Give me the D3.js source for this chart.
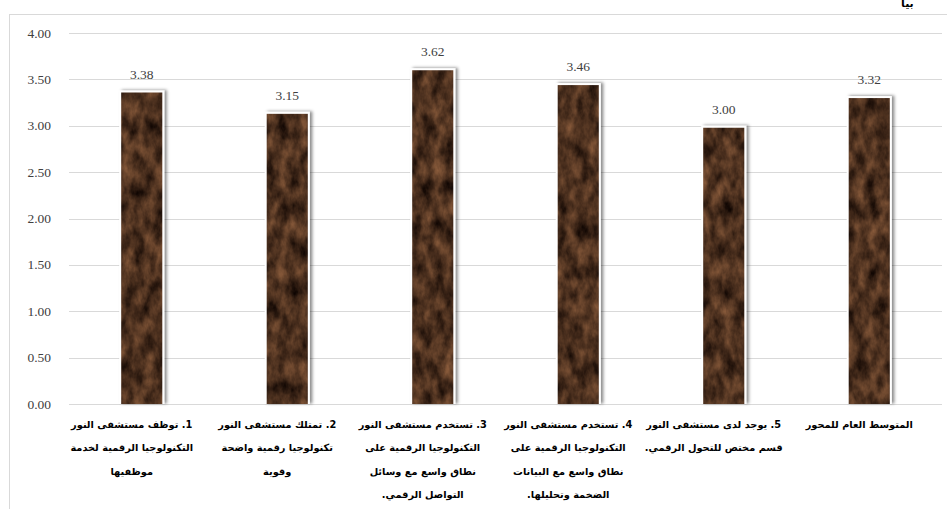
<!DOCTYPE html>
<html>
<head>
<meta charset="utf-8">
<script src="https://cdn.jsdelivr.net/npm/d3@7/dist/d3.min.js"></script>
<style>
  body { margin: 0; background: #fff; }
  svg { display: block; }
</style>
</head>
<body>
<svg width="947" height="509"></svg>
<script>
// values
const values = [3.38, 3.15, 3.62, 3.46, 3.00, 3.32];
const categoryLines = [
    ["1. توظف مستشفى النور", "التكنولوجيا الرقمية لخدمة", "موظفيها"],
    ["2. تمتلك مستشفى النور", "تكنولوجيا رقمية واضحة", "وقوية"],
    ["3. تستخدم مستشفى النور", "التكنولوجيا الرقمية على", "نطاق واسع مع وسائل", "التواصل الرقمي."],
    ["4. تستخدم مستشفى النور", "التكنولوجيا الرقمية على", "نطاق واسع مع البيانات", "الضخمة وتحليلها."],
    ["5. يوجد لدى مستشفى النور", "قسم مختص للتحول الرقمي."],
    ["المتوسط العام للمحور"]
];
const yTicks = [0, 0.5, 1, 1.5, 2, 2.5, 3, 3.5, 4];

const svg = d3.select("svg");
const width = +svg.attr("width");
const height = +svg.attr("height");

const margin = { left: 69, right: 5, top: 33, bottom: 105 };
const plotBottom = height - margin.bottom; // 404

const x = d3.scaleBand()
    .domain(d3.range(values.length))
    .range([margin.left, width - margin.right])
    .paddingInner(0.69)
    .paddingOuter(0.345);

const y = d3.scaleLinear()
    .domain([0, 4])
    .range([plotBottom, margin.top]);

const defs = svg.append("defs");

// dark brown marble texture
const marble = defs.append("filter")
    .attr("id", "marble")
    .attr("color-interpolation-filters", "sRGB")
    .attr("x", 0).attr("y", 0).attr("width", 1).attr("height", 1);
marble.append("feTurbulence")
    .attr("type", "fractalNoise")
    .attr("baseFrequency", "0.09 0.05")
    .attr("numOctaves", 4)
    .attr("seed", 7)
    .attr("result", "noise");
marble.append("feColorMatrix")
    .attr("in", "noise")
    .attr("type", "matrix")
    .attr("values",
        "0.6 0 0 0 0.0 " +
        "0.42 0 0 0 -0.02 " +
        "0.28 0 0 0 -0.02 " +
        "0 0 0 0 1")
    .attr("result", "col");
marble.append("feComposite")
    .attr("in", "col")
    .attr("in2", "SourceGraphic")
    .attr("operator", "in");

// soft shadow around the white frame
const shadow = defs.append("filter")
    .attr("id", "shadow")
    .attr("x", "-30%").attr("y", "-10%").attr("width", "160%").attr("height", "120%");
shadow.append("feDropShadow")
    .attr("dx", 2.5).attr("dy", -0.5)
    .attr("stdDeviation", 1.6)
    .attr("flood-color", "#000")
    .attr("flood-opacity", 0.45);

// frame
svg.append("rect")
    .attr("x", 9.5).attr("y", 14.5)
    .attr("width", width + 10).attr("height", height + 10)
    .attr("fill", "none")
    .attr("stroke", "#d9d9d9");

// title fragment, cut off at the top as in the reference
svg.append("text")
    .attr("x", 901).attr("y", 7)
    .attr("text-anchor", "end")
    .attr("font-family", "DejaVu Sans")
    .attr("font-weight", "bold")
    .attr("font-size", 11)
    .attr("fill", "#000")
    .attr("direction", "rtl")
    .text("بيا");

// gridlines
svg.append("g")
    .selectAll("line")
    .data(yTicks)
    .join("line")
    .attr("x1", margin.left)
    .attr("x2", width - margin.right)
    .attr("y1", d => Math.round(y(d)) + 0.5)
    .attr("y2", d => Math.round(y(d)) + 0.5)
    .attr("stroke", "#d9d9d9")
    .attr("stroke-width", 1);

// y axis labels
svg.append("g")
    .selectAll("text")
    .data(yTicks)
    .join("text")
    .attr("x", 51)
    .attr("y", d => y(d) + 4.5)
    .attr("text-anchor", "end")
    .attr("font-family", "Liberation Serif")
    .attr("font-size", 13.5)
    .attr("fill", "#404040")
    .text(d => d3.format(".2f")(d));

// bars
const bars = svg.append("g")
    .selectAll("g")
    .data(values)
    .join("g");

bars.append("rect")
    .attr("x", (d, i) => x(i))
    .attr("y", d => y(d))
    .attr("width", x.bandwidth())
    .attr("height", d => plotBottom - y(d))
    .attr("fill", "#fff")
    .attr("filter", "url(#shadow)");

bars.append("rect")
    .attr("x", (d, i) => x(i) + 2)
    .attr("y", d => y(d) + 2)
    .attr("width", x.bandwidth() - 4)
    .attr("height", d => plotBottom - y(d) - 2)
    .attr("fill", "#4a2e1c")
    .attr("filter", "url(#marble)");

// value labels
svg.append("g")
    .selectAll("text")
    .data(values)
    .join("text")
    .attr("x", (d, i) => x(i) + x.bandwidth() / 2)
    .attr("y", d => y(d) - 12)
    .attr("text-anchor", "middle")
    .attr("font-family", "Liberation Serif")
    .attr("font-size", 13.5)
    .attr("fill", "#404040")
    .text(d => d3.format(".2f")(d));

// category labels
const cat = svg.append("g")
    .selectAll("text")
    .data(categoryLines)
    .join("text")
    .attr("text-anchor", "middle")
    .attr("direction", "rtl")
    .attr("font-family", "DejaVu Sans")
    .attr("font-size", 9.8)
    .attr("font-weight", "bold")
    .attr("fill", "#000");

cat.selectAll("tspan")
    .data((lines, i) => lines.map((l, j) => ({ l, j, i })))
    .join("tspan")
    .attr("x", d => x(d.i) + x.bandwidth() / 2 - 10)
    .attr("y", d => 428 + d.j * 23.3)
    .text(d => d.l);
</script>
</body>
</html>
